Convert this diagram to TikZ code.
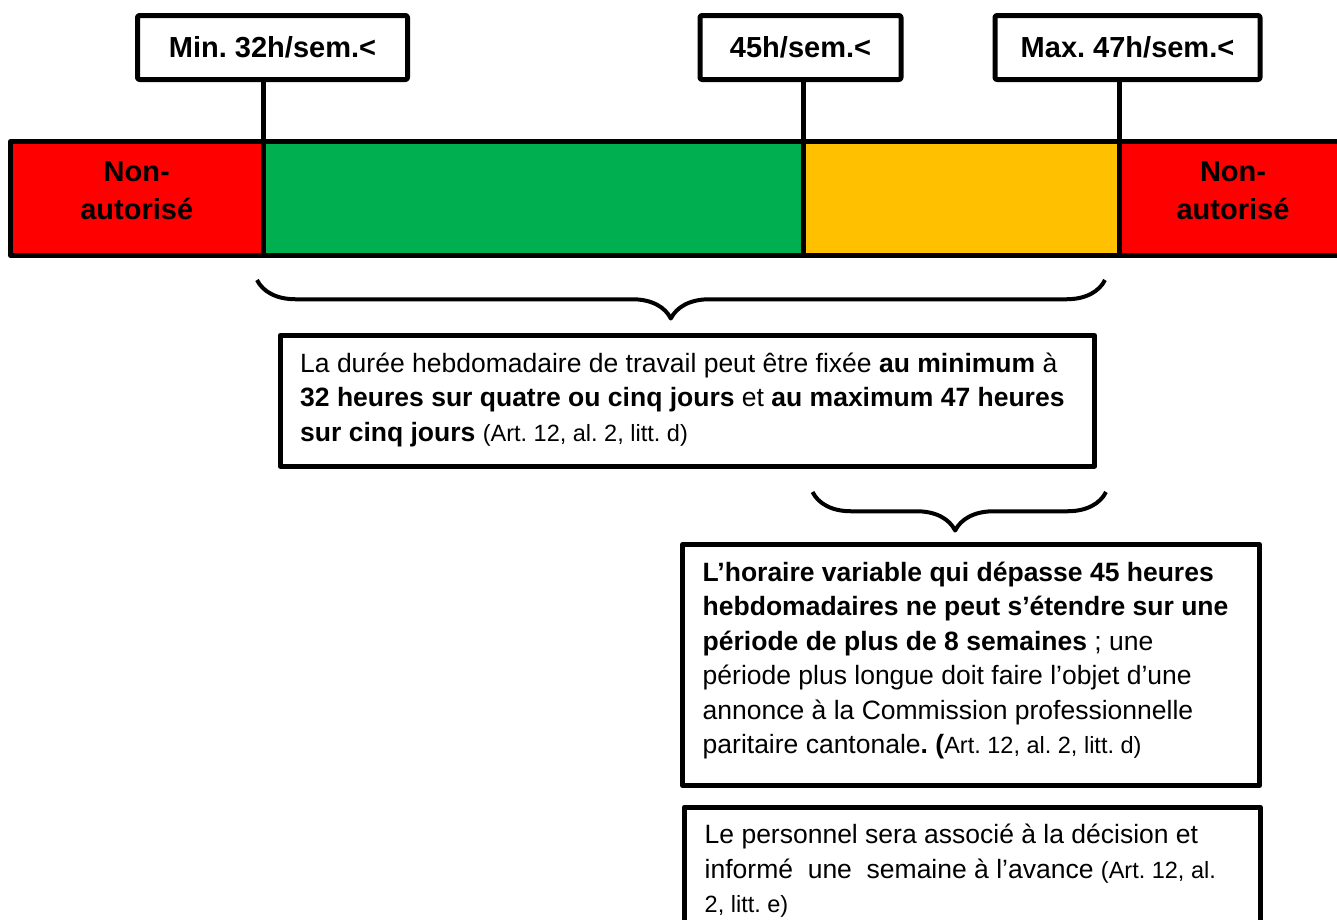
\documentclass[tikz,border=0pt]{standalone}
\usepackage{fontspec}
\setmainfont{Liberation Sans}
\usetikzlibrary{positioning, decorations.pathreplacing}
\definecolor{nogo}{HTML}{FF0000}
\definecolor{ok}{HTML}{00B050}
\definecolor{warn}{HTML}{FFC000}
\newcommand{\artref}[1]{{\fontsize{23.5}{34.5}\selectfont #1}}
\frenchspacing

\begin{document}
\begin{tikzpicture}[x=1pt,y=-1pt,line join=round,
      zone/.style={draw,line width=5pt,outer sep=0pt,inner sep=0pt,minimum height=114pt},
      limbox/.style={draw,line width=5pt,rounded corners=2pt,fill=white,outer sep=0pt,inner sep=0pt,
        minimum height=64pt,font=\fontsize{29}{38}\selectfont\bfseries},
      zonetext/.style={align=center,inner sep=0pt,font=\fontsize{29}{38}\selectfont\bfseries},
      note/.style={draw,line width=5pt,outer sep=0pt,inner sep=0pt},
      notetext/.style={align=left,inner sep=0pt,anchor=north west,font=\fontsize{26.5}{34.5}\selectfont},
      stem/.style={line width=5pt},
      curly/.style={line width=4pt,decorate,decoration={brace,mirror,amplitude=38.5pt,aspect=#1}}]
      \useasboundingbox (0,0) rectangle (1337,919);
      \fill[white] (0,0) rectangle (1337,919);
      \clip (0,0) rectangle (1337,919);
      % the bar of hours
      \node[zone, fill=nogo, minimum width=252.5pt] (z_0) at (136.75,198.5) {};
      \node[zone, fill=ok, minimum width=540pt]     (z_1) [right=0pt of z_0] {};
      \node[zone, fill=warn, minimum width=316pt]   (z_2) [right=0pt of z_1] {};
      \node[zone, fill=nogo, minimum width=228pt]   (z_3) [right=0pt of z_2] {};
      \node[zonetext] (t_0) at ([yshift=8pt]z_0.center) {Non-\\autorisé};
      \node[zonetext] (t_3) at ([yshift=8pt]z_3.center) {Non-\\autorisé};
      % limits
      \node[limbox, minimum width=270pt] (h_32) at (272.5,47.5) {Min. 32h/sem.<};
      \node[limbox, minimum width=201pt] (h_45) at (800.5,47.5) {45h/sem.<};
      \node[limbox, minimum width=265pt] (h_47) at (1127.5,47.5) {Max. 47h/sem.<};
      \draw[stem] (h_32.south -| z_0.north east) -- (z_0.north east);
      \draw[stem] (h_45.south -| z_1.north east) -- (z_1.north east);
      \draw[stem] (h_47.south -| z_2.north east) -- (z_2.north east);
      % braces
      \coordinate (b_1) at (257,280);
      \coordinate (b_2) at (1105,280);
      \coordinate (b_3) at (812.5,492);
      \coordinate (b_4) at (1106,492);
      \draw[curly=0.488] (b_1) -- (b_2);
      \draw[curly=0.486] (b_3) -- (b_4);
      % notes
      \node[note, minimum width=814.5pt, minimum height=130.5pt] (n_a) at (687.25,400.75) {};
      \node[note, minimum width=577pt, minimum height=241pt]     (n_b) at (971,665) {};
      \node[note, minimum width=575.5pt, minimum height=153pt]   (n_c) at (972.25,883.5) {};
      \node[notetext] (t_a) at ([xshift=20pt,yshift=-17pt]n_a.north west)
        {La durée hebdomadaire de travail peut être fixée \textbf{au minimum} à\\
         \textbf{32 heures sur quatre ou cinq jours} et \textbf{au maximum 47 heures}\\
         \textbf{sur cinq jours} \artref{(Art. 12, al. 2, litt. d)}};
      \node[notetext] (t_b) at ([xshift=20pt,yshift=-17pt]n_b.north west)
        {\textbf{L’horaire variable qui dépasse 45 heures}\\
         \textbf{hebdomadaires ne peut s’étendre sur une}\\
         \textbf{période de plus de 8 semaines} ; une\\
         période plus longue doit faire l’objet d’une\\
         annonce à la Commission professionnelle\\
         paritaire cantonale\textbf{. (}\artref{Art. 12, al. 2, litt. d)}};
      \node[notetext] (t_c) at ([xshift=20pt,yshift=-17pt]n_c.north west)
        {Le personnel sera associé à la décision et\\
         informé\ \ une\ \ semaine à l’avance \artref{(Art. 12, al.}\\
         \artref{2, litt. e)}};
    \end{tikzpicture}
\end{document}
